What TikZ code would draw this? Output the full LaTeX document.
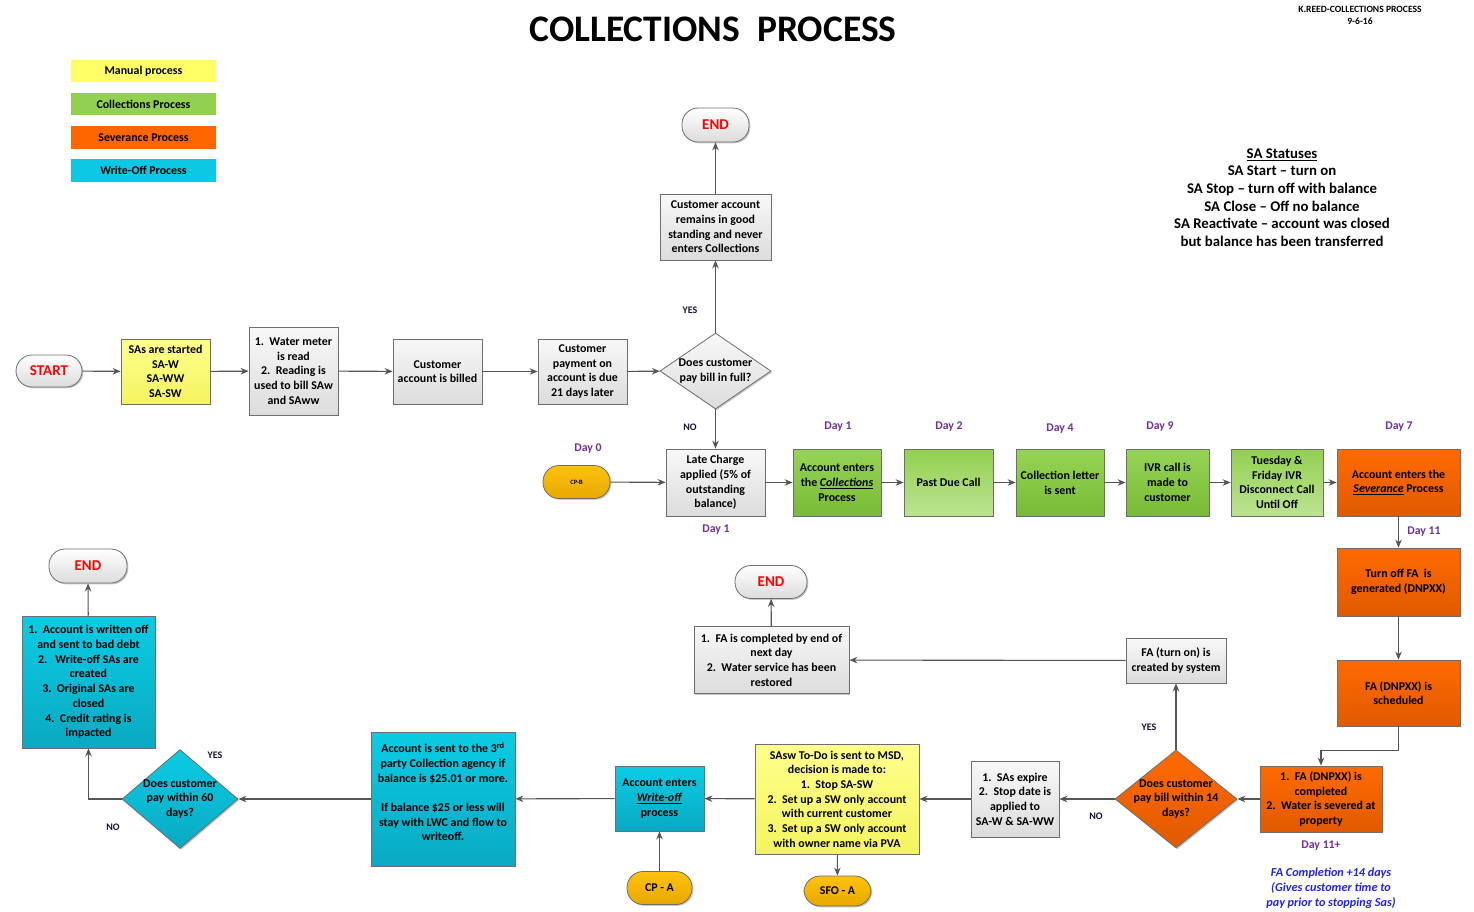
\documentclass[tikz,border=0pt]{standalone}
\usepackage{fontspec}
\setmainfont{Carlito}
\usetikzlibrary{shapes.geometric,arrows.meta,shadows}
\definecolor{bordc}{HTML}{6E6E6E}
\definecolor{arrc}{HTML}{555555}
\definecolor{grayA}{HTML}{F8F8F8}
\definecolor{grayB}{HTML}{DCDCDC}
\definecolor{yelA}{HTML}{FFFF8C}
\definecolor{yelB}{HTML}{F4F460}
\definecolor{grnA}{HTML}{96D455}
\definecolor{grnB}{HTML}{78BB36}
\definecolor{lgrA}{HTML}{92D050}
\definecolor{lgrB}{HTML}{BDE393}
\definecolor{orA}{HTML}{FF6A00}
\definecolor{orB}{HTML}{E05A00}
\definecolor{cyA}{HTML}{0ACCE4}
\definecolor{cyB}{HTML}{0AA9C2}
\definecolor{goldA}{HTML}{FFC20E}
\definecolor{goldB}{HTML}{E8A800}
\definecolor{legY}{HTML}{FFFF66}
\definecolor{legG}{HTML}{92D050}
\definecolor{legO}{HTML}{FF6600}
\definecolor{legC}{HTML}{0CC8E2}
\definecolor{purp}{HTML}{7030A0}
\definecolor{navyt}{HTML}{141432}
\definecolor{bluet}{HTML}{2222EE}
\newcommand\boxfnt{\fontsize{11.9}{14.7}\selectfont\bfseries}
\newcommand\pillfnt{\fontsize{15}{17}\selectfont\bfseries}
\newcommand\lblfnt{\fontsize{10}{11}\selectfont\bfseries}
\newcommand\dayfnt{\fontsize{11.8}{13}\selectfont\bfseries}
\tikzset{
 box/.style={draw=bordc, line width=0.8pt, align=center, inner sep=1pt, font=\boxfnt, text=black,
   drop shadow={shadow xshift=1.3pt, shadow yshift=-1.3pt, opacity=0.22, fill=black}},
 gbox/.style={box, top color=grayA, bottom color=grayB},
 ybox/.style={box, top color=yelA, bottom color=yelB},
 gnbox/.style={box, top color=grnA, bottom color=grnB},
 lgbox/.style={box, top color=lgrA, bottom color=lgrB},
 obox/.style={box, top color=orA, bottom color=orB},
 cbox/.style={box, top color=cyA, bottom color=cyB},
 pill/.style={box, rounded corners=16pt},
 endpill/.style={pill, top color=white, bottom color=grayB, text=red, font=\pillfnt},
 cppill/.style={pill, top color=goldA, bottom color=goldB},
 dia/.style={diamond, inner sep=0pt},
 dtext/.style={align=center, font=\boxfnt, text=black, inner sep=0pt},
 arr/.style={draw=arrc, line width=1.1pt, -{Stealth[length=8pt,width=6.5pt]}},
 lbl/.style={font=\lblfnt, text=navyt},
 day/.style={font=\dayfnt, text=purp},
 leg/.style={align=center, font=\boxfnt, text=black, minimum width=145pt, minimum height=22.5pt, inner sep=0pt},
}
\begin{document}
\begin{tikzpicture}[x=1pt,y=-1pt]
\useasboundingbox[fill=white] (0,0) rectangle (1474,911);

% title and header
\node[font=\fontsize{37.5}{44}\selectfont\bfseries] (title) at (713,29) {COLLECTIONS\ \ PROCESS};
\node[font=\fontsize{9.6}{12}\selectfont\bfseries, align=center] (hdr) at (1360,15) {K.REED-COLLECTIONS PROCESS\\9-6-16};
\node[font=\fontsize{14.8}{17.6}\selectfont\bfseries, align=center] (status) at (1282,197.5)
 {\underline{SA Statuses}\\SA Start -- turn on\\SA Stop -- turn off with balance\\SA Close -- Off no balance\\SA Reactivate -- account was closed\\but balance has been transferred};

% legend
\node[leg, fill=legY] (leg1) at (143.5,71) {Manual process};
\node[leg, fill=legG] (leg2) at (143.5,104) {Collections Process};
\node[leg, fill=legO] (leg3) at (143.5,137.5) {Severance Process};
\node[leg, fill=legC] (leg4) at (143.5,170.5) {Write-Off Process};

% row 1
\node[endpill, minimum width=66pt, minimum height=32pt] (start) at (49,371) {START};
\node[ybox, minimum width=89pt, minimum height=65pt] (sas) at (165.5,371.5) {SAs are started\\SA-W\\SA-WW\\SA-SW};
\node[gbox, minimum width=89pt, minimum height=88pt] (water) at (293.5,371) {1.\ \ Water meter\\is read\\2.\ \ Reading is\\used to bill SAw\\and SAww};
\node[gbox, minimum width=89pt, minimum height=65pt] (billed) at (437.5,371.5) {Customer\\account is billed};
\node[gbox, minimum width=89pt, minimum height=65pt] (pay) at (582.5,371.5) {Customer\\payment on\\account is due\\21 days later};
\node[dia, gbox, minimum width=111pt, minimum height=76pt] (dfull) at (715.5,371) {};
\node[dtext] (dfullt) at (dfull) {Does customer\\pay bill in full?};
\node[gbox, minimum width=111pt, minimum height=66pt] (good) at (715.5,227) {Customer account\\remains in good\\standing and never\\enters Collections};
\node[endpill, minimum width=67pt, minimum height=34pt] (end1) at (715.5,125) {END};
\node[lbl] (yes1) at (690,310) {YES};
\node[lbl] (no1) at (690,427) {NO};

% row 2
\node[day] (day0) at (588,449) {Day 0};
\node[cppill, minimum width=67pt, minimum height=33pt, font=\fontsize{6.5}{7}\selectfont\bfseries] (cpb) at (576.5,482) {CP-B};
\node[gbox, minimum width=99pt, minimum height=67pt] (late) at (715.5,482.5) {Late Charge\\applied (5\% of\\outstanding\\balance)};
\node[day] (day1a) at (716,530) {Day 1};
\node[gnbox, minimum width=88pt, minimum height=67pt] (coll) at (837,482.5) {Account enters\\the \underline{\textit{Collections}}\\Process};
\node[day] (day1b) at (838,427) {Day 1};
\node[lgbox, minimum width=89pt, minimum height=67pt] (pdc) at (948.5,482.5) {Past Due Call};
\node[day] (day2) at (949,427) {Day 2};
\node[gnbox, minimum width=88pt, minimum height=67pt] (letter) at (1060,482.5) {Collection letter\\is sent};
\node[day] (day4) at (1060,429) {Day 4};
\node[gnbox, minimum width=83pt, minimum height=67pt] (ivr) at (1167.5,482.5) {IVR call is\\made to\\customer};
\node[day] (day9) at (1160,427) {Day 9};
\node[lgbox, minimum width=92pt, minimum height=67pt] (tue) at (1277,482.5) {Tuesday \&\\Friday IVR\\Disconnect Call\\Until Off};
\node[obox, minimum width=123pt, minimum height=67pt] (sev) at (1398.5,482.5) {Account enters the\\\underline{\textit{Severance}} Process};
\node[day] (day7) at (1399,427) {Day 7};
\node[day] (day11) at (1424,532) {Day 11};

% right column
\node[obox, minimum width=123pt, minimum height=68pt] (turnoff) at (1398.5,582) {Turn off FA\ \ is\\generated (DNPXX)};
\node[obox, minimum width=123pt, minimum height=66pt] (sched) at (1398.5,693) {FA (DNPXX) is\\scheduled};
\node[obox, minimum width=122pt, minimum height=66pt] (compl) at (1321,799) {1.\ \ FA (DNPXX) is\\completed\\2.\ \ Water is severed at\\property};
\node[day] (day11p) at (1321,846) {Day 11+};
\node[font=\fontsize{12.2}{15}\selectfont\bfseries\itshape, text=bluet, align=center] (facomp) at (1331,888) {FA Completion +14 days\\(Gives customer time to\\pay prior to stopping Sas)};

% bottom row
\node[dia, obox, minimum width=122pt, minimum height=98pt] (d14) at (1176,799) {};
\node[dtext] (d14t) at (d14) {Does customer\\pay bill within 14\\days?};
\node[lbl] (no2) at (1096,816) {NO};
\node[lbl] (yes2) at (1149,727) {YES};
\node[gbox, minimum width=100pt, minimum height=45pt] (faon) at (1176,660.5) {FA (turn on) is\\created by system};
\node[gbox, minimum width=155pt, minimum height=67pt] (facd) at (771.5,660) {1.\ \ FA is completed by end of\\next day\\2.\ \ Water service has been\\restored};
\node[endpill, minimum width=72pt, minimum height=33pt] (end2) at (771,582) {END};
\node[gbox, minimum width=88pt, minimum height=76pt] (expire) at (1015,799) {1.\ \ SAs expire\\2.\ \ Stop date is\\applied to\\SA-W \& SA-WW};
\node[ybox, minimum width=164pt, minimum height=110pt] (sasw) at (837,799) {SAsw To-Do is sent to MSD,\\decision is made to:\\1.\ \ Stop SA-SW\\2.\ \ Set up a SW only account\\with current customer\\3.\ \ Set up a SW only account\\with owner name via PVA};
\node[cppill, minimum width=67pt, minimum height=30pt] (sfoa) at (837.5,891) {SFO - A};
\node[cbox, minimum width=89pt, minimum height=65pt] (wo) at (659.5,798.5) {Account enters\\\underline{\textit{Write-off}}\\process};
\node[cppill, minimum width=65pt, minimum height=33pt] (cpa) at (659.5,888) {CP - A};
\node[cbox, minimum width=144pt, minimum height=134pt] (third) at (443,799) {Account is sent to the 3\textsuperscript{rd}\\party Collection agency if\\balance is \$25.01 or more.\\[14.7pt]If balance \$25 or less will\\stay with LWC and flow to\\writeoff.\\\mbox{}};
\node[dia, cbox, minimum width=116pt, minimum height=99pt] (d60) at (180,799) {};
\node[dtext] (d60t) at (d60) {Does customer\\pay within 60\\days?};
\node[lbl] (yes3) at (215,755) {YES};
\node[lbl] (no3) at (113,827) {NO};
\node[cbox, minimum width=133pt, minimum height=132pt] (woff) at (88.5,682) {1.\ \ Account is written off\\and sent to bad debt\\2.\ \ \ Write-off SAs are\\created\\3.\ \ Original SAs are\\closed\\4.\ \ Credit rating is\\impacted};
\node[endpill, minimum width=78pt, minimum height=34pt] (end3) at (88,566) {END};

% connectors
\draw[arr] (start) -- (sas);
\draw[arr] (sas) -- (water);
\draw[arr] (water) -- (billed);
\draw[arr] (billed) -- (pay);
\draw[arr] (pay) -- (dfull);
\draw[arr] (dfull) -- (good);
\draw[arr] (good) -- (end1);
\draw[arr] (dfull) -- (late);
\draw[arr] (cpb) -- (late);
\draw[arr] (late) -- (coll);
\draw[arr] (coll) -- (pdc);
\draw[arr] (pdc) -- (letter);
\draw[arr] (letter) -- (ivr);
\draw[arr] (ivr) -- (tue);
\draw[arr] (tue) -- (sev);
\draw[arr] (sev) -- (turnoff);
\draw[arr] (turnoff) -- (sched);
\draw[arr] (sched.south) -- ++(0,24) -| (compl.north);
\draw[arr] (compl) -- (d14);
\draw[arr] (d14) -- (expire);
\draw[arr] (d14) -- (faon);
\draw[arr] (faon) -- (facd);
\draw[arr] (facd) -- (end2);
\draw[arr] (expire) -- (sasw);
\draw[arr] (sasw) -- (sfoa);
\draw[arr] (sasw) -- (wo);
\draw[arr] (cpa) -- (wo);
\draw[arr] (wo) -- (third);
\draw[arr] (third) -- (d60);
\draw[arr] (d60.west) -| (woff.south);
\draw[arr] (woff) -- (end3);
\end{tikzpicture}
\end{document}
